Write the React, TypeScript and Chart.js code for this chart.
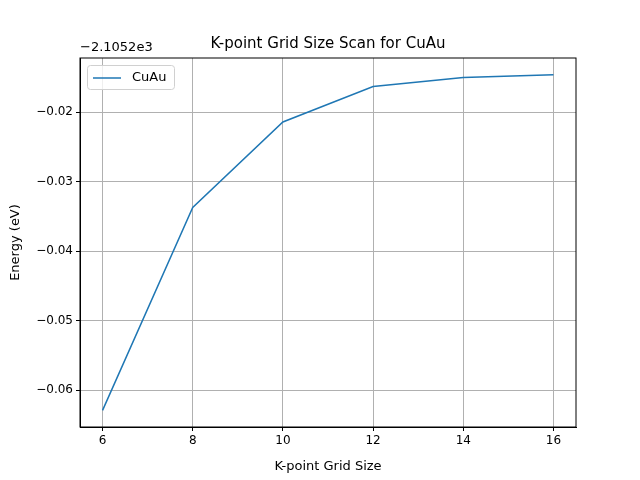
import Chart from "chart.js/auto";
import { useEffect, useRef } from "react";

const gridSizes = [6, 8, 10, 12, 14, 16];
const energies = [-0.0629, -0.0337, -0.0214, -0.0163, -0.015, -0.0146];
const xTicks = [6, 8, 10, 12, 14, 16];
const yTicks = [-0.06, -0.05, -0.04, -0.03, -0.02];
const seriesName = "CuAu";
const offsetText = "\u22122.1052e3";
const FONT = "DejaVu Sans";

const overlay = {
  id: "overlay",
  afterDraw(chart: Chart) {
    const { ctx, chartArea: a } = chart;
    ctx.save();
    // full axes frame
    ctx.strokeStyle = "#000";
    ctx.lineWidth = 1;
    ctx.strokeRect(a.left, a.top, a.right - a.left, a.bottom - a.top);
    ctx.fillStyle = "#000";
    ctx.font = `15px ${FONT}`;
    ctx.textAlign = "center";
    ctx.textBaseline = "bottom";
    ctx.fillText("K-point Grid Size Scan for CuAu", (a.left + a.right) / 2, a.top - 6);
    ctx.font = `13px ${FONT}`;
    ctx.textAlign = "left";
    ctx.fillText(offsetText, a.left, a.top - 4);
    // legend
    const lx = a.left + 7, ly = a.top + 7;
    ctx.fillStyle = "rgba(255,255,255,0.8)";
    ctx.strokeStyle = "#d0d0d0";
    ctx.lineWidth = 1;
    ctx.beginPath();
    ctx.roundRect(lx + 0.5, ly + 0.5, 87, 24, 3);
    ctx.fill();
    ctx.stroke();
    ctx.strokeStyle = "#1f77b4";
    ctx.lineWidth = 1.5;
    ctx.beginPath();
    ctx.moveTo(lx + 6, ly + 13);
    ctx.lineTo(lx + 34, ly + 13);
    ctx.stroke();
    ctx.fillStyle = "#000";
    ctx.textBaseline = "middle";
    ctx.fillText(seriesName, lx + 45, ly + 13);
    ctx.restore();
  },
};

export default function App() {
  const canvasRef = useRef<HTMLCanvasElement | null>(null);

  useEffect(() => {
    document.body.style.margin = "0";
    const chart = new Chart(canvasRef.current!, {
      type: "line",
      data: {
        datasets: [
          {
            label: seriesName,
            data: gridSizes.map((x, i) => ({ x, y: energies[i] })),
            borderColor: "#1f77b4",
            borderWidth: 1.5,
            pointRadius: 0,
            tension: 0,
          },
        ],
      },
      options: {
        animation: false,
        responsive: false,
        layout: { padding: { top: 58, right: 64, left: 4, bottom: 0 } },
        plugins: { legend: { display: false }, title: { display: false }, tooltip: { enabled: false } },
        scales: {
          x: {
            type: "linear",
            min: 5.5,
            max: 16.5,
            afterBuildTicks: (s: any) => { s.ticks = xTicks.map((v) => ({ value: v })); },
            afterFit: (s: any) => { s.height = 53; },
            grid: { color: "#b0b0b0", tickLength: 4, tickColor: "#000" },
            border: { color: "#000" },
            ticks: { color: "#000", font: { family: FONT, size: 12 }, padding: 3 },
            title: { display: true, text: "K-point Grid Size", color: "#000", font: { family: FONT, size: 13 }, padding: { top: 0, bottom: 6 } },
          },
          y: {
            min: -0.0653,
            max: -0.0122,
            afterBuildTicks: (s: any) => { s.ticks = yTicks.map((v) => ({ value: v })); },
            afterFit: (s: any) => { s.width = 76; },
            grid: { color: "#b0b0b0", tickLength: 4, tickColor: "#000" },
            border: { color: "#000" },
            ticks: {
              color: "#000",
              font: { family: FONT, size: 12 },
              padding: 3,
              callback: (v: any) => (Number(v).toFixed(2)).replace("-", "\u2212"),
            },
            title: { display: true, text: "Energy (eV)", color: "#000", font: { family: FONT, size: 13 } },
          },
        },
      },
      plugins: [overlay],
    });
    return () => chart.destroy();
  }, []);

  return <canvas ref={canvasRef} width={640} height={480} />;
}
